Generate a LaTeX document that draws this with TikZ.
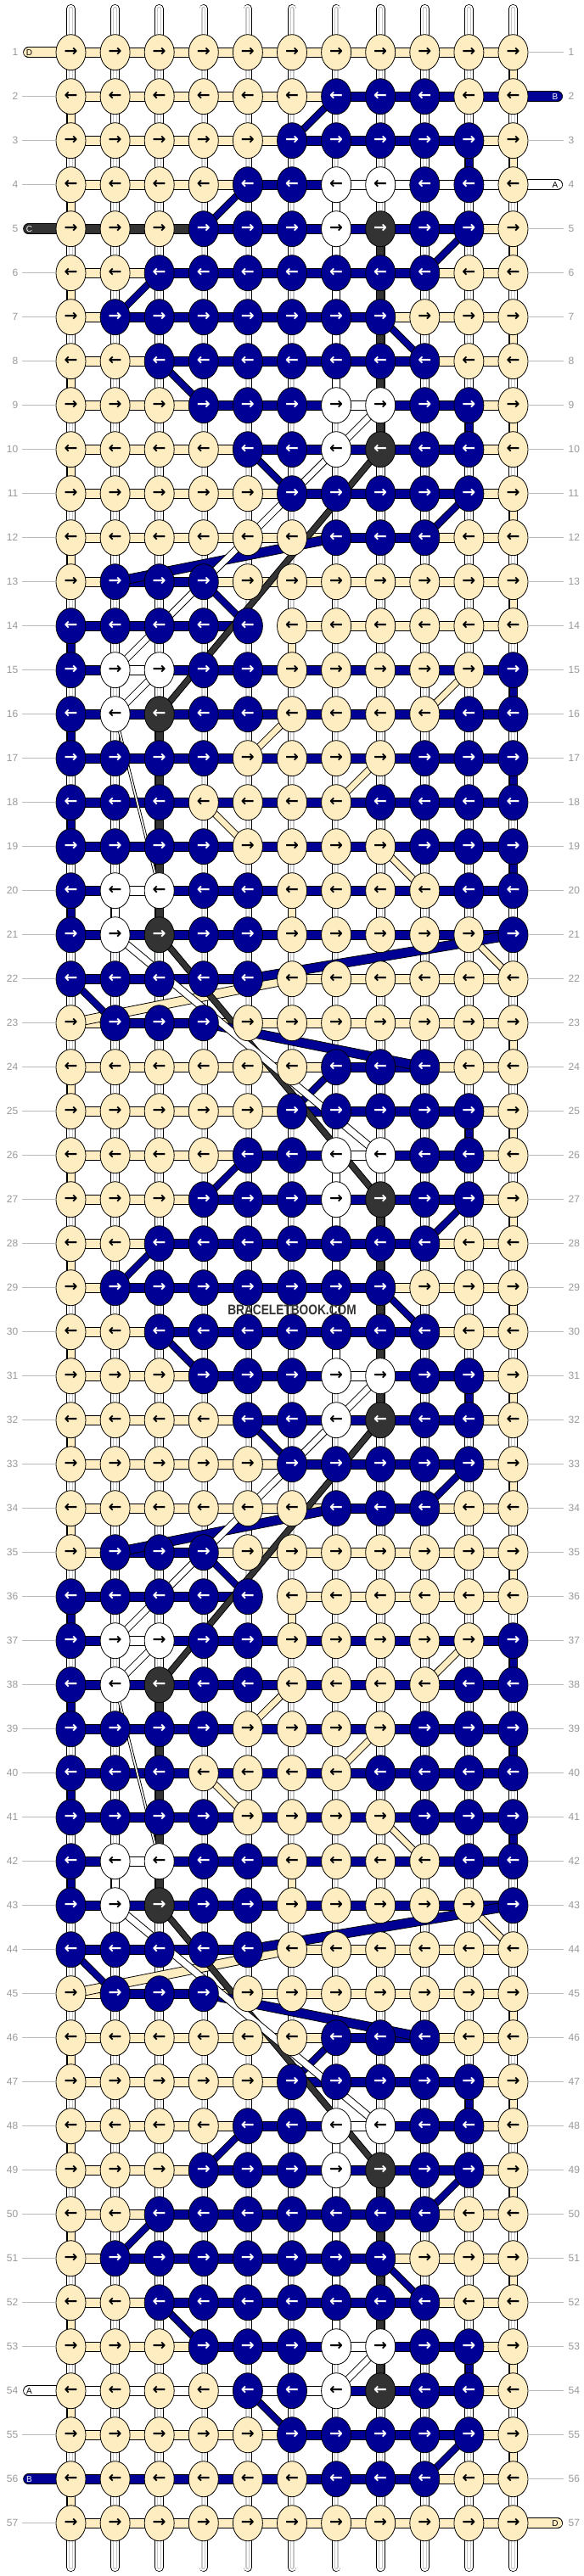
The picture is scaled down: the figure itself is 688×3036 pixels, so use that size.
\documentclass[tikz,border=0pt]{standalone}
\usepackage{fontspec}
\setmainfont{Liberation Sans}
\newfontfamily\arrowfont{DejaVu Sans}
\usetikzlibrary{shapes.geometric}

\definecolor{cream}{HTML}{FFEDC2}
\definecolor{navy}{HTML}{000094}
\definecolor{coal}{HTML}{333333}
\definecolor{warpgrey}{HTML}{C8C8C8}
\definecolor{labelgrey}{HTML}{999999}
\definecolor{linegrey}{HTML}{BBBBBB}

\tikzset{
  knot/.style={ellipse, draw=black, line width=0.8pt, minimum width=35pt, minimum height=42pt, inner sep=0pt, font=\arrowfont\bfseries\fontsize{19}{19}\selectfont},
  kY/.style={knot, fill=cream, text=black},
  kB/.style={knot, fill=navy, text=white},
  kW/.style={knot, fill=white, text=black},
  kK/.style={knot, fill=coal, text=white},
  thread/.style={draw=black, line width=0.8pt},
  rowno/.style={text=labelgrey, inner sep=0pt, font=\fontsize{12}{12}\selectfont},
  tag/.style={inner sep=0pt, font=\fontsize{10}{10}\selectfont},
  guide/.style={draw=linegrey, line width=0.8pt},
}

\def\threadD{1/1/11,2/11/1,3/1/11,4/11/1,5/1/11,6/11/1,7/1/11,8/11/1,9/1/11,10/11/1,11/1/11,12/11/1,13/1/11,14/11/6,15/6/10,16/9/6,17/5/8,18/7/4,19/5/8,20/9/6,21/6/10,22/11/6,23/1/11,24/11/1,25/1/11,26/11/1,27/1/11,28/11/1,29/1/11,30/11/1,31/1/11,32/11/1,33/1/11,34/11/1,35/1/11,36/11/6,37/6/10,38/9/6,39/5/8,40/7/4,41/5/8,42/9/6,43/6/10,44/11/6,45/1/11,46/11/1,47/1/11,48/11/1,49/1/11,50/11/1,51/1/11,52/11/1,53/1/11,54/11/1,55/1/11,56/11/1,57/1/11}
\def\threadC{5/1/8,10/8/8,16/3/3,21/3/3,27/8/8,32/8/8,38/3/3,43/3/3,49/8/8,54/8/8}
\def\threadB{2/11/7,3/6/10,4/10/5,5/4/10,6/9/3,7/2/8,8/9/3,9/4/10,10/10/5,11/6/10,12/9/7,13/2/4,14/5/1,15/1/11,16/11/1,17/1/11,18/11/1,19/1/11,20/11/1,21/1/11,22/5/1,23/2/4,24/9/7,25/6/10,26/10/5,27/4/10,28/9/3,29/2/8,30/9/3,31/4/10,32/10/5,33/6/10,34/9/7,35/2/4,36/5/1,37/1/11,38/11/1,39/1/11,40/11/1,41/1/11,42/11/1,43/1/11,44/5/1,45/2/4,46/9/7,47/6/10,48/10/5,49/4/10,50/9/3,51/2/8,52/9/3,53/4/10,54/10/5,55/6/10,56/9/1}
\def\threadA{4/11/7,5/7/7,9/7/8,10/7/7,15/2/3,16/2/2,20/3/2,21/2/2,26/8/7,27/7/7,31/7/8,32/7/7,37/2/3,38/2/2,42/3/2,43/2/2,48/8/7,49/7/7,53/7/8,54/7/1}

\newcommand\runs[2]{%
  \foreach \rr/\fa/\fb in #1 {%
    \ifnum\fa=\fb\relax\else
      \filldraw[thread, fill=#2] ([yshift=5.5pt]p\rr-\fa) rectangle ([yshift=-5.5pt]p\rr-\fb);
    \fi}}
\newcommand\turns[2]{%
  \foreach \rr/\fa/\fb [remember=\rr as \lastr (initially 0), remember=\fb as \lastb (initially 0)] in #1 {%
    \ifnum\lastr>0
      \ifnum\lastb=\fa\relax
        \filldraw[thread, fill=#2] ([xshift=-4.5pt]p\lastr-\lastb) rectangle ([xshift=4.5pt]p\rr-\fa);
      \else
        \filldraw[thread, fill=#2] ([yshift=5.5pt]p\lastr-\lastb) -- ([yshift=5.5pt]p\rr-\fa) -- ([yshift=-5.5pt]p\rr-\fa) -- ([yshift=-5.5pt]p\lastr-\lastb) -- cycle;
      \fi
    \fi}}
\newcommand\tail[3]{%
  \draw[line width=12.6pt, line cap=round] (#1) -- (#2);
  \draw[line width=11pt, line cap=round, #3] (#1) -- (#2);}

\begin{document}
\begin{tikzpicture}[x=1pt, y=-1pt]
\useasboundingbox (0,0) rectangle (688,3036);
\fill[white] (0,0) rectangle (688,3036);
\foreach \rr in {1,...,57}
  \foreach \cc in {1,...,11}
    \coordinate (p\rr-\cc) at ({344+(\cc-6)*52.1},{61.7+(\rr-1)*52});
\foreach \cc in {1,...,11} {
  \coordinate (top\cc) at ({344+(\cc-6)*52.1},10.3);
  \coordinate (bot\cc) at ({344+(\cc-6)*52.1},3025.7);
  \draw[line width=10.6pt, line cap=round] (top\cc) -- (bot\cc);
  \draw[line width=9pt, line cap=round, white] (top\cc) -- (bot\cc);
  \draw[line width=5pt, line cap=round, warpgrey] (top\cc) -- (bot\cc);
  \draw[line width=2.6pt, line cap=round, white] (top\cc) -- (bot\cc);
}

\coordinate (inD) at (33.5,61.7);
\coordinate (outD) at (656.7,2973.7);
\coordinate (inC) at (33.5,269.7);
\coordinate (inB) at (656.7,113.7);
\coordinate (outB) at (33.5,2921.7);
\coordinate (inA) at (656.7,217.7);
\coordinate (outA) at (33.5,2817.7);
\tail{inD}{p1-1}{cream}
\tail{outD}{p57-11}{cream}
\tail{inC}{p5-1}{coal}
\tail{inB}{p2-11}{navy}
\tail{outB}{p56-1}{navy}
\tail{inA}{p4-11}{white}
\tail{outA}{p54-1}{white}

\runs{\threadD}{cream}
\runs{\threadC}{coal}
\runs{\threadB}{navy}
\runs{\threadA}{white}
\turns{\threadD}{cream}
\turns{\threadC}{coal}
\turns{\threadB}{navy}
\turns{\threadA}{white}

\foreach \rr/\ks in {
  1/{Y,Y,Y,Y,Y,Y,Y,Y,Y,Y,Y},
  2/{Y,Y,Y,Y,Y,Y,B,B,B,Y,Y},
  3/{Y,Y,Y,Y,Y,B,B,B,B,B,Y},
  4/{Y,Y,Y,Y,B,B,W,W,B,B,Y},
  5/{Y,Y,Y,B,B,B,W,K,B,B,Y},
  6/{Y,Y,B,B,B,B,B,B,B,Y,Y},
  7/{Y,B,B,B,B,B,B,B,Y,Y,Y},
  8/{Y,Y,B,B,B,B,B,B,B,Y,Y},
  9/{Y,Y,Y,B,B,B,W,W,B,B,Y},
  10/{Y,Y,Y,Y,B,B,W,K,B,B,Y},
  11/{Y,Y,Y,Y,Y,B,B,B,B,B,Y},
  12/{Y,Y,Y,Y,Y,Y,B,B,B,Y,Y},
  13/{Y,B,B,B,Y,Y,Y,Y,Y,Y,Y},
  14/{B,B,B,B,B,Y,Y,Y,Y,Y,Y},
  15/{B,W,W,B,B,Y,Y,Y,Y,Y,B},
  16/{B,W,K,B,B,Y,Y,Y,Y,B,B},
  17/{B,B,B,B,Y,Y,Y,Y,B,B,B},
  18/{B,B,B,Y,Y,Y,Y,B,B,B,B},
  19/{B,B,B,B,Y,Y,Y,Y,B,B,B},
  20/{B,W,W,B,B,Y,Y,Y,Y,B,B},
  21/{B,W,K,B,B,Y,Y,Y,Y,Y,B},
  22/{B,B,B,B,B,Y,Y,Y,Y,Y,Y},
  23/{Y,B,B,B,Y,Y,Y,Y,Y,Y,Y},
  24/{Y,Y,Y,Y,Y,Y,B,B,B,Y,Y},
  25/{Y,Y,Y,Y,Y,B,B,B,B,B,Y},
  26/{Y,Y,Y,Y,B,B,W,W,B,B,Y},
  27/{Y,Y,Y,B,B,B,W,K,B,B,Y},
  28/{Y,Y,B,B,B,B,B,B,B,Y,Y},
  29/{Y,B,B,B,B,B,B,B,Y,Y,Y},
  30/{Y,Y,B,B,B,B,B,B,B,Y,Y},
  31/{Y,Y,Y,B,B,B,W,W,B,B,Y},
  32/{Y,Y,Y,Y,B,B,W,K,B,B,Y},
  33/{Y,Y,Y,Y,Y,B,B,B,B,B,Y},
  34/{Y,Y,Y,Y,Y,Y,B,B,B,Y,Y},
  35/{Y,B,B,B,Y,Y,Y,Y,Y,Y,Y},
  36/{B,B,B,B,B,Y,Y,Y,Y,Y,Y},
  37/{B,W,W,B,B,Y,Y,Y,Y,Y,B},
  38/{B,W,K,B,B,Y,Y,Y,Y,B,B},
  39/{B,B,B,B,Y,Y,Y,Y,B,B,B},
  40/{B,B,B,Y,Y,Y,Y,B,B,B,B},
  41/{B,B,B,B,Y,Y,Y,Y,B,B,B},
  42/{B,W,W,B,B,Y,Y,Y,Y,B,B},
  43/{B,W,K,B,B,Y,Y,Y,Y,Y,B},
  44/{B,B,B,B,B,Y,Y,Y,Y,Y,Y},
  45/{Y,B,B,B,Y,Y,Y,Y,Y,Y,Y},
  46/{Y,Y,Y,Y,Y,Y,B,B,B,Y,Y},
  47/{Y,Y,Y,Y,Y,B,B,B,B,B,Y},
  48/{Y,Y,Y,Y,B,B,W,W,B,B,Y},
  49/{Y,Y,Y,B,B,B,W,K,B,B,Y},
  50/{Y,Y,B,B,B,B,B,B,B,Y,Y},
  51/{Y,B,B,B,B,B,B,B,Y,Y,Y},
  52/{Y,Y,B,B,B,B,B,B,B,Y,Y},
  53/{Y,Y,Y,B,B,B,W,W,B,B,Y},
  54/{Y,Y,Y,Y,B,B,W,K,B,B,Y},
  55/{Y,Y,Y,Y,Y,B,B,B,B,B,Y},
  56/{Y,Y,Y,Y,Y,Y,B,B,B,Y,Y},
  57/{Y,Y,Y,Y,Y,Y,Y,Y,Y,Y,Y}} {
  \foreach \kk [count=\cc] in \ks
    \node[k\kk] (k\rr-\cc) at (p\rr-\cc) {\ifodd\rr\relax→\else←\fi};
}

\foreach \rr in {1,...,57} {
  \node[rowno, anchor=east] (nl\rr) at (21.5,{61.7+(\rr-1)*52}) {\rr};
  \node[rowno, anchor=west] (nr\rr) at (669.5,{61.7+(\rr-1)*52}) {\rr};
}
\foreach \rr in {2,3,4,6,7,...,53,55,57}
  \draw[guide] ([xshift=4.5pt]nl\rr.east) -- (k\rr-1.west);
\foreach \rr in {1,3,5,6,...,56}
  \draw[guide] (k\rr-11.east) -- ([xshift=-5.5pt]nr\rr.west);

\node[tag] (tagD1) at (34.5,61.7) {D};
\node[tag] (tagD2) at (654,2973.7) {D};
\node[tag, text=white] (tagC1) at (34.5,269.7) {C};
\node[tag, text=white] (tagB1) at (654,113.7) {B};
\node[tag, text=white] (tagB2) at (34.5,2921.7) {B};
\node[tag] (tagA1) at (654,217.7) {A};
\node[tag] (tagA2) at (34.5,2817.7) {A};
\node[text=coal, xscale=0.83, font=\bfseries\fontsize{16.5}{16.5}\selectfont] (mark) at (344,1543.7) {BRACELETBOOK.COM};
\end{tikzpicture}
\end{document}
